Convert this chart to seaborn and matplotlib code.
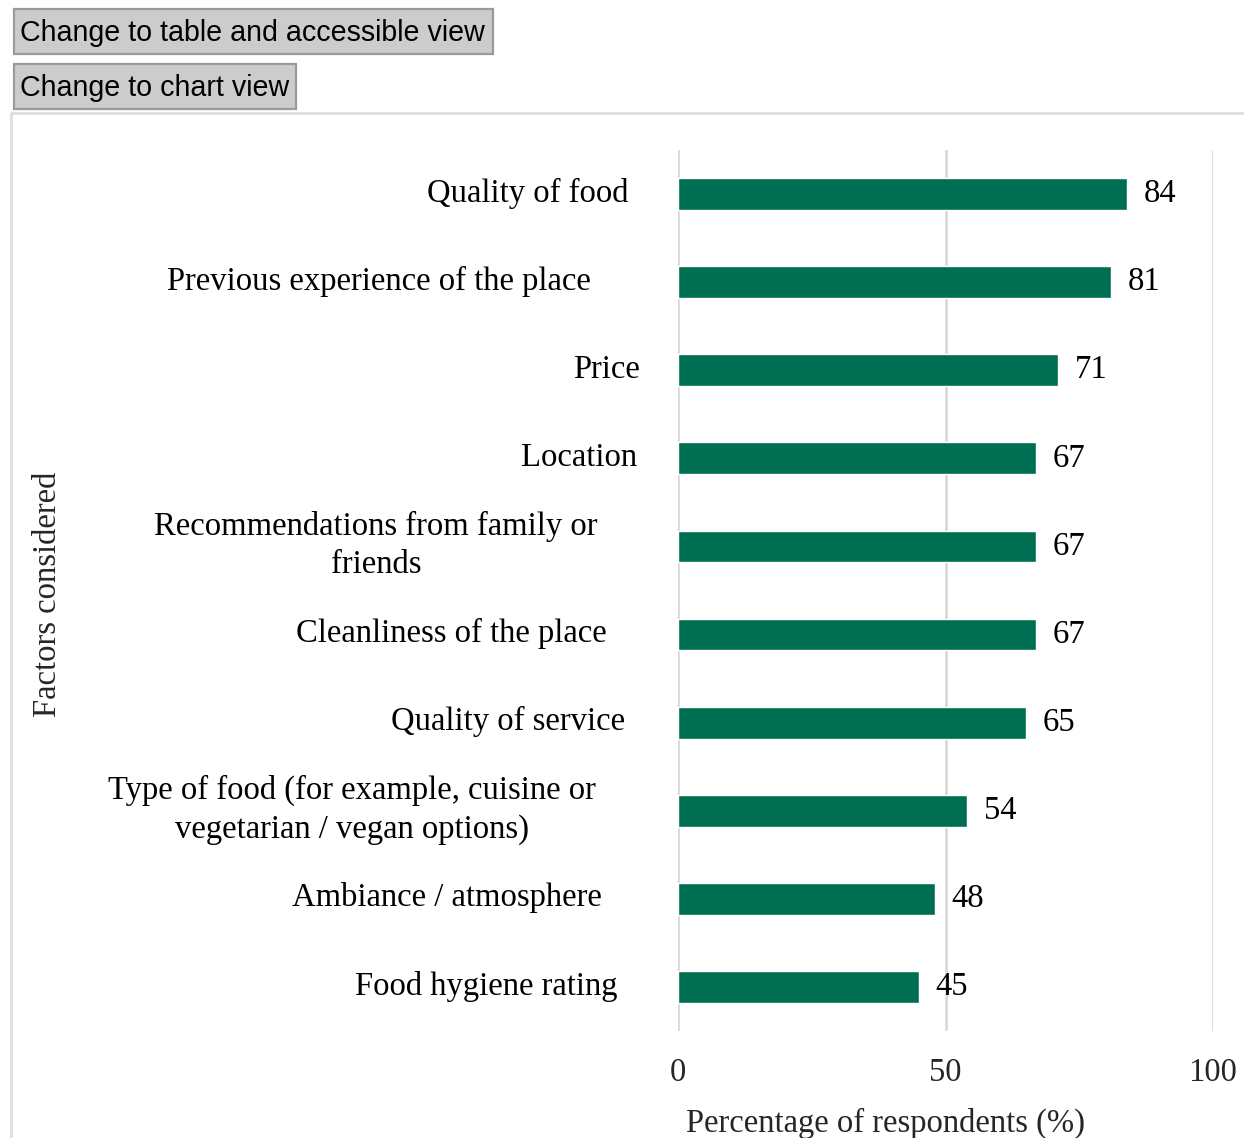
import textwrap

import matplotlib
matplotlib.use("Agg")
import matplotlib.pyplot as plt
from matplotlib.lines import Line2D
from matplotlib.patches import Rectangle
from matplotlib.transforms import blended_transform_factory
import pandas as pd
import seaborn as sns

# Survey results: factors considered when choosing where to eat out
factors = [
    "Quality of food",
    "Previous experience of the place",
    "Price",
    "Location",
    "Recommendations from family or friends",
    "Cleanliness of the place",
    "Quality of service",
    "Type of food (for example, cuisine or vegetarian / vegan options)",
    "Ambiance / atmosphere",
    "Food hygiene rating",
]
percentages = [84, 81, 71, 67, 67, 67, 65, 54, 48, 45]
x_ticks = [0, 50, 100]

# Horizontal centre (in figure pixels) of each category label
label_centre_px = [528, 379, 607, 579, 376, 451, 508, 352, 447, 486]

W, H = 1244, 1138
BAR_COLOUR = "#006F51"
GRID_COLOUR = "#d9d9d9"
SERIF = ["Liberation Serif", "DejaVu Serif"]
SANS = ["Liberation Sans", "DejaVu Sans"]
FS = 23.5

sns.set_theme(style="white")
plt.rcParams["font.family"] = SERIF


def fx(px):
    return px / W


def fy(py):
    return 1 - py / H


fig = plt.figure(figsize=(W / 100, H / 100), dpi=100)
fig.patch.set_facecolor("white")

# Toggle buttons above the chart
buttons = [
    ("Change to table and accessible view", 14, 9, 493, 54),
    ("Change to chart view", 14, 64, 296, 109),
]
for text, x0, y0, x1, y1 in buttons:
    fig.add_artist(Rectangle((fx(x0), fy(y1)), (x1 - x0) / W, (y1 - y0) / H,
                             transform=fig.transFigure, facecolor="#cccccc",
                             edgecolor="#9a9a9a", linewidth=1.6))
    fig.text(fx(x0 + 6), fy((y0 + y1) / 2 + 1.5), text, family=SANS,
             fontsize=20.6, color="black", ha="left", va="center")

# Chart container outline
fig.add_artist(Line2D([fx(11), fx(W + 5)], [fy(113), fy(113)],
                      transform=fig.transFigure, color="#dedede", lw=2))
fig.add_artist(Line2D([fx(11), fx(11)], [fy(113), fy(H + 5)],
                      transform=fig.transFigure, color="#dedede", lw=2))

ax = fig.add_axes([fx(678), fy(1031), (1213 - 678) / W, (1031 - 150) / H])
df = pd.DataFrame({"factor": factors, "pct": percentages})
sns.barplot(data=df, y="factor", x="pct", orient="h", color=BAR_COLOUR,
            saturation=1, width=0.36, ax=ax)

ax.set_xlim(0, 100)
ax.set_ylim(len(factors) - 0.5, -0.5)
ax.set_xticks(x_ticks)
ax.set_xticklabels([str(t) for t in x_ticks], fontsize=FS)
ax.set_yticks(range(len(factors)))
ax.set_yticklabels([])
ax.tick_params(axis="both", length=0)
ax.tick_params(axis="x", pad=19)
ax.grid(axis="x", color=GRID_COLOUR, linewidth=2)
ax.grid(axis="y", visible=False)
ax.set_axisbelow(True)
for spine in ax.spines.values():
    spine.set_visible(False)
ax.set_xlabel("")
ax.set_ylabel("")

# Category labels, wrapped and centred
label_tr = blended_transform_factory(fig.transFigure, ax.transData)
for i, (name, cx) in enumerate(zip(factors, label_centre_px)):
    ax.text(fx(cx), i - 0.01, textwrap.fill(name, 37), transform=label_tr,
            ha="center", va="center", multialignment="center",
            fontsize=FS, linespacing=1.34, color="black")

# Value labels at the end of each bar
for i, v in enumerate(percentages):
    ax.annotate(str(v), xy=(v, i), xytext=(12, 0), textcoords="offset points",
                ha="left", va="center", fontsize=FS, color="black")

fig.text(fx(48), fy(594), "Factors considered", rotation=90,
         ha="center", va="center", fontsize=FS)
fig.text(fx(885), fy(1123), "Percentage of respondents (%)",
         ha="center", va="center", fontsize=FS)

fig.savefig("out.png", dpi=100, facecolor="white")
